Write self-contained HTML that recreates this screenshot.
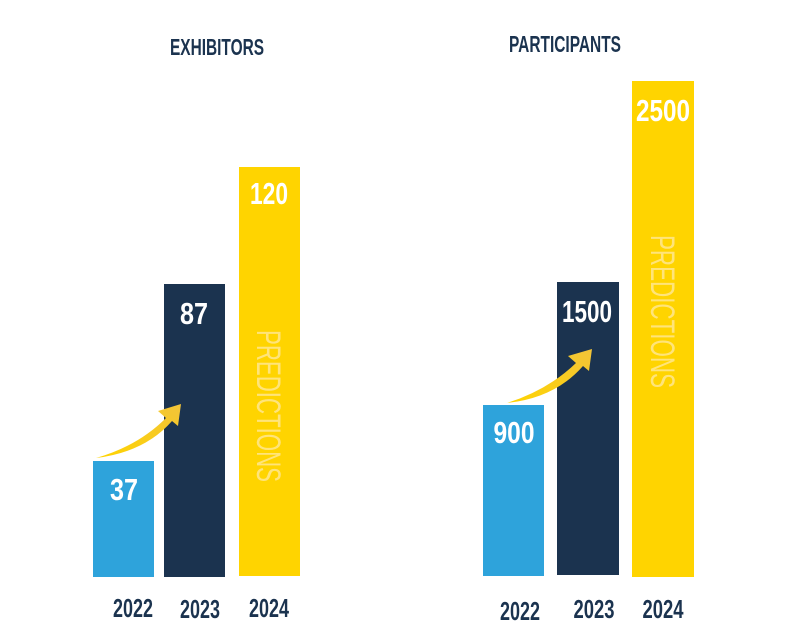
<!DOCTYPE html>
<html><head><meta charset="utf-8"><style>
html,body{margin:0;padding:0;background:#fff;width:800px;height:644px;overflow:hidden}
text{font-family:"Liberation Sans Narrow","Liberation Sans",sans-serif;font-weight:bold}
</style></head><body>
<svg width="800" height="644" viewBox="0 0 800 644" xmlns="http://www.w3.org/2000/svg">
<defs>
<linearGradient id="ag" x1="0" y1="1" x2="1" y2="0">
<stop offset="0" stop-color="#ffd400"/><stop offset="1" stop-color="#f2c43a"/></linearGradient>
</defs>
<text x="217" y="55" font-size="23" fill="#1b334f" text-anchor="middle" textLength="94" lengthAdjust="spacingAndGlyphs">EXHIBITORS</text>
<text x="565" y="52" font-size="23" fill="#1b334f" text-anchor="middle" textLength="112" lengthAdjust="spacingAndGlyphs">PARTICIPANTS</text>
<rect x="93" y="461" width="61" height="116" fill="#2ea3db"/>
<rect x="164" y="284" width="61" height="293" fill="#1b334f"/>
<rect x="239" y="167" width="61" height="409" fill="#ffd400"/>
<rect x="483" y="405" width="61" height="171" fill="#2ea3db"/>
<rect x="557" y="282" width="62" height="293" fill="#1b334f"/>
<rect x="632" y="81" width="62" height="496" fill="#ffd400"/>
<g fill="#fff" font-size="31" text-anchor="middle">
<text x="124" y="500" textLength="28" lengthAdjust="spacingAndGlyphs">37</text>
<text x="194" y="324" textLength="28" lengthAdjust="spacingAndGlyphs">87</text>
<text x="269" y="204" textLength="38" lengthAdjust="spacingAndGlyphs">120</text>
<text x="514" y="443" textLength="41" lengthAdjust="spacingAndGlyphs">900</text>
<text x="587" y="322" textLength="50" lengthAdjust="spacingAndGlyphs">1500</text>
<text x="663" y="121" textLength="54" lengthAdjust="spacingAndGlyphs">2500</text>
</g>
<g fill="#ffe47a" font-size="34">
<text transform="translate(257,330) rotate(90)" style="font-weight:normal" textLength="152" lengthAdjust="spacingAndGlyphs">PREDICTIONS</text>
<text transform="translate(651,235) rotate(90)" style="font-weight:normal" textLength="153" lengthAdjust="spacingAndGlyphs">PREDICTIONS</text>
</g>
<path d="M96,458 Q138,446 166,418 L158,411 L181,404 L178,426 L172,421 Q145,452 96,458 Z" fill="url(#ag)"/>
<path d="M507,403 Q548,390 576,363 L568,356 L592,349 L589,371 L583,366 Q555,398 507,403 Z" fill="url(#ag)"/>
<g fill="#1b334f" font-size="26" text-anchor="middle">
<text x="133" y="617" textLength="40" lengthAdjust="spacingAndGlyphs">2022</text>
<text x="200" y="618" textLength="40" lengthAdjust="spacingAndGlyphs">2023</text>
<text x="269" y="617" textLength="40" lengthAdjust="spacingAndGlyphs">2024</text>
<text x="520" y="620" textLength="40" lengthAdjust="spacingAndGlyphs">2022</text>
<text x="594" y="618" textLength="41" lengthAdjust="spacingAndGlyphs">2023</text>
<text x="663" y="618" textLength="41" lengthAdjust="spacingAndGlyphs">2024</text>
</g>
</svg>
</body></html>
